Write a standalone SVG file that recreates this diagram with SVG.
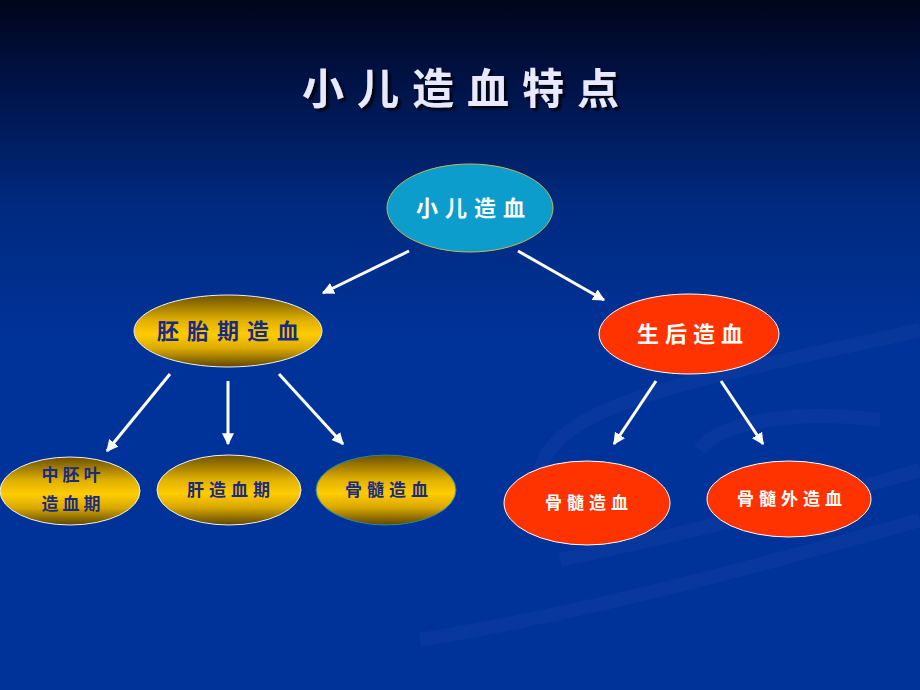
<svg xmlns="http://www.w3.org/2000/svg" width="920" height="690" viewBox="0 0 920 690">
<defs>
<linearGradient id="bg" x1="0" y1="0" x2="0" y2="1">
<stop offset="0" stop-color="#00051a"/>
<stop offset="0.1" stop-color="#001040"/>
<stop offset="0.3" stop-color="#002a80"/>
<stop offset="0.5" stop-color="#003399"/>
<stop offset="1" stop-color="#003399"/>
</linearGradient>
<linearGradient id="gold" x1="0" y1="0" x2="0" y2="1">
<stop offset="0" stop-color="#6b5000"/>
<stop offset="0.35" stop-color="#e0b000"/>
<stop offset="0.55" stop-color="#ffcc00"/>
<stop offset="0.75" stop-color="#d8a800"/>
<stop offset="1" stop-color="#5e4600"/>
</linearGradient>
<marker id="ah" viewBox="0 0 10 10" refX="9" refY="5" markerWidth="4" markerHeight="4" orient="auto" markerUnits="strokeWidth">
<path d="M0,0 L10,5 L0,10 z" fill="#ffffff"/>
</marker>
<filter id="sh" x="-10%" y="-10%" width="120%" height="130%">
<feDropShadow dx="3" dy="3" stdDeviation="1.2" flood-color="#000000" flood-opacity="0.8"/>
</filter>
</defs>
<style>
.t{font-family:"Noto Sans CJK SC","Noto Sans CJK JP",sans-serif;font-weight:bold;text-anchor:middle}
.w{fill:#ffffff}
.b{fill:#1a2a80}
.g{fill:url(#gold);stroke:#f0f0f0;stroke-width:1}
.r{fill:#ff3300;stroke:#ffffff;stroke-width:1}
.c line{stroke:#ffffff;stroke-width:3;marker-end:url(#ah)}
</style>
<rect width="920" height="690" fill="url(#bg)"/>
<g fill="none" stroke="#2a4fb0" stroke-opacity="0.18" stroke-width="14">
<path d="M540,470 C560,400 700,380 920,330"/>
<path d="M560,560 C700,530 820,500 920,470"/>
<path d="M420,640 C600,610 780,560 920,520"/>
<path d="M700,450 C720,420 800,410 880,420"/>
</g>
<text class="t" x="467" y="104" font-size="42" letter-spacing="13" fill="#e8e8ff" filter="url(#sh)">小儿造血特点</text>
<g class="c">
<line x1="409" y1="251" x2="323" y2="293"/>
<line x1="518" y1="251" x2="604" y2="300"/>
<line x1="170" y1="374" x2="107" y2="451"/>
<line x1="228" y1="381" x2="228" y2="444"/>
<line x1="279" y1="374" x2="343" y2="444"/>
<line x1="656" y1="381" x2="614" y2="444"/>
<line x1="721" y1="381" x2="763" y2="444"/>
</g>
<g id="root">
<ellipse cx="470" cy="208" rx="83" ry="44" fill="#0c9dcc" stroke="#c8b848" stroke-width="1"/>
<text class="t w" x="474" y="216" font-size="22" letter-spacing="7">小儿造血</text>
</g>
<g id="embryo">
<ellipse class="g" cx="228" cy="331" rx="94" ry="36"/>
<text class="t b" x="232" y="339" font-size="22" letter-spacing="8">胚胎期造血</text>
</g>
<g id="postnatal">
<ellipse class="r" cx="689" cy="334" rx="90" ry="40"/>
<text class="t w" x="693" y="342" font-size="22" letter-spacing="6">生后造血</text>
</g>
<g id="mesoderm">
<ellipse class="g" cx="70" cy="491" rx="70" ry="34"/>
<text class="t b" x="73" y="481" font-size="17" letter-spacing="4">中胚叶</text>
<text class="t b" x="73" y="510" font-size="17" letter-spacing="4">造血期</text>
</g>
<g id="liver">
<ellipse class="g" cx="229" cy="490" rx="72" ry="35"/>
<text class="t b" x="231" y="496" font-size="17" letter-spacing="5">肝造血期</text>
</g>
<g id="marrow-fetal">
<ellipse cx="386" cy="490" rx="70" ry="35" fill="url(#gold)" stroke="#2a8a9a" stroke-width="1"/>
<text class="t b" x="389" y="496" font-size="17" letter-spacing="5">骨髓造血</text>
</g>
<g id="marrow">
<ellipse class="r" cx="587" cy="503" rx="83" ry="42"/>
<text class="t w" x="589" y="509" font-size="17" letter-spacing="5">骨髓造血</text>
</g>
<g id="extramedullary">
<ellipse class="r" cx="789" cy="499" rx="82" ry="38"/>
<text class="t w" x="792" y="505" font-size="17" letter-spacing="5">骨髓外造血</text>
</g>
</svg>
